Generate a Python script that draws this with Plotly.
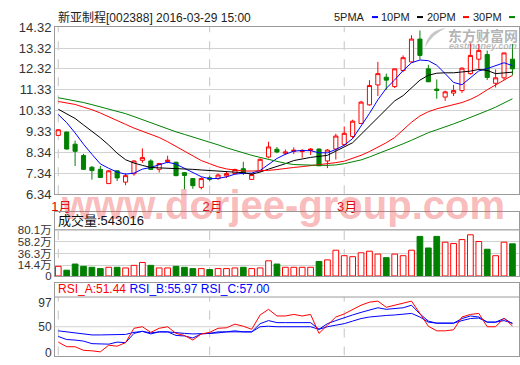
import plotly.graph_objects as go

# ---------------- data ----------------
idx = list(range(55))
month_ticks = [0, 18, 34]
month_labels = ["1月", "2月", "3月"]

open_ = [9.15, 9.31, 8.73, 8.19, 7.63, 7.53, 6.85, 7.46, 6.92, 7.32,
         7.96, 7.93, 7.53, 7.90, 7.87, 7.37, 7.09, 6.67, 7.13, 7.09,
         7.22, 7.33, 7.56, 7.05, 7.46, 8.12, 8.49, 8.30, 8.39, 8.38,
         8.43, 8.50, 7.93, 8.50, 8.71, 9.10, 9.72, 10.61, 11.56, 11.93,
         11.48, 12.25, 12.66, 13.75, 12.33, 11.36, 10.98, 11.17, 11.29, 12.10,
         12.79, 13.01, 11.64, 11.90, 12.79]
high = [9.45, 9.33, 8.90, 8.27, 7.69, 7.69, 7.50, 7.48, 7.35, 7.96,
        8.53, 8.01, 7.84, 8.18, 7.89, 7.40, 7.11, 7.15, 7.22, 7.33,
        7.41, 7.56, 7.89, 7.35, 8.05, 8.85, 8.60, 8.48, 8.58, 8.50,
        8.54, 8.52, 8.50, 9.23, 9.58, 9.90, 10.80, 11.79, 12.66, 12.10,
        12.33, 12.97, 13.93, 14.16, 12.52, 11.82, 11.29, 11.56, 12.40, 13.55,
        13.52, 13.20, 12.30, 13.09, 13.52]
low = [9.12, 8.48, 7.69, 7.50, 7.04, 7.12, 6.83, 6.97, 6.77, 7.23,
       7.84, 7.50, 7.38, 7.82, 7.20, 6.57, 6.60, 6.57, 6.95, 7.03,
       7.12, 7.29, 7.26, 7.02, 7.40, 8.06, 8.30, 8.21, 8.26, 8.08,
       8.22, 7.69, 7.59, 8.00, 8.66, 9.00, 9.70, 10.57, 11.03, 11.33,
       11.41, 12.17, 12.63, 12.77, 11.71, 10.90, 10.80, 11.03, 11.18, 12.05,
       12.33, 11.80, 11.44, 11.80, 12.02]
close = [9.42, 8.50, 8.39, 7.53, 7.47, 7.14, 7.46, 7.12, 7.23, 7.93,
         8.09, 7.53, 7.81, 7.97, 7.23, 7.24, 6.75, 7.09, 7.06, 7.26,
         7.33, 7.52, 7.37, 7.28, 8.01, 8.60, 8.36, 8.36, 8.44, 8.41,
         8.50, 7.70, 8.45, 9.12, 9.25, 9.83, 10.74, 11.53, 12.10, 11.79,
         12.33, 12.86, 13.75, 12.97, 11.71, 11.30, 11.23, 11.29, 12.36, 12.97,
         13.21, 11.92, 11.90, 13.09, 12.33]

ma5 = [10.15, 9.76, 9.27, 8.73, 8.25, 7.79, 7.58, 7.40, 7.30, 7.35,
       7.54, 7.62, 7.75, 7.87, 7.78, 7.57, 7.37, 7.18, 7.08, 7.10,
       7.17, 7.30, 7.34, 7.35, 7.48, 7.75, 8.05, 8.25, 8.40, 8.43,
       8.42, 8.32, 8.32, 8.48, 8.68, 9.00, 9.58, 10.20, 10.85, 11.40,
       11.80, 12.25, 12.62, 12.75, 12.72, 12.50, 12.10, 11.68, 11.57, 11.90,
       12.23, 12.34, 12.47, 12.62, 12.48]
ma10 = [10.40, 10.19, 9.96, 9.65, 9.35, 9.04, 8.69, 8.30, 7.99, 7.83,
        7.72, 7.62, 7.60, 7.59, 7.58, 7.56, 7.53, 7.50, 7.47, 7.45,
        7.42, 7.40, 7.37, 7.30, 7.40, 7.54, 7.66, 7.80, 7.95, 8.04,
        8.10, 8.15, 8.20, 8.40, 8.60, 8.80, 9.20, 9.60, 10.00, 10.45,
        10.80, 11.05, 11.41, 11.79, 12.02, 12.12, 12.14, 12.14, 12.18, 12.22,
        12.30, 12.25, 12.10, 12.12, 12.17]
ma20 = [10.77, 10.71, 10.63, 10.50, 10.38, 10.22, 10.05, 9.85, 9.68, 9.50,
        9.35, 9.22, 9.05, 8.85, 8.62, 8.38, 8.15, 7.95, 7.80, 7.65,
        7.55, 7.50, 7.45, 7.45, 7.45, 7.48, 7.52, 7.58, 7.62, 7.66,
        7.70, 7.74, 7.80, 7.85, 7.92, 8.05, 8.20, 8.38, 8.58, 8.80,
        9.05, 9.40, 9.78, 10.08, 10.28, 10.42, 10.52, 10.61, 10.72, 10.87,
        11.07, 11.33, 11.56, 11.79, 12.02]
ma30 = [10.95, 10.88, 10.80, 10.72, 10.62, 10.52, 10.42, 10.30, 10.19, 10.05,
        9.90, 9.76, 9.62, 9.45, 9.32, 9.20, 9.08, 8.96, 8.82, 8.70,
        8.56, 8.43, 8.32, 8.20, 8.10, 8.00, 7.90, 7.82, 7.76, 7.74,
        7.73, 7.72, 7.72, 7.74, 7.80, 7.88, 7.98, 8.12, 8.27, 8.42,
        8.58, 8.75, 8.92, 9.10, 9.28, 9.42, 9.55, 9.70, 9.85, 10.00,
        10.18, 10.33, 10.50, 10.70, 10.90]

# volume in 万 shares
volume = [12.6, 5.4, 16.8, 12.6, 10.8, 8.4, 10.8, 10.8, 9.6, 14.4,
          19.8, 14.4, 9.6, 9.6, 12.6, 10.8, 8.4, 8.4, 6.6, 8.4,
          8.4, 9.6, 10.8, 8.4, 9.6, 22.8, 16.8, 10.8, 10.8, 10.8,
          10.8, 21.6, 24.5, 42.5, 32.3, 30.5, 37.7, 40.7, 35.3, 28.7,
          35.3, 32.3, 42.5, 68.1, 46.6, 68.1, 57.4, 55.0, 62.2, 71.1,
          58.6, 44.3, 32.3, 57.4, 54.3]

rsi_a = [20, 11, 11, 4, 3, 1, 14, 12, 19, 47,
         50, 39, 47, 50, 37, 33, 24, 36, 39, 47,
         48, 55, 51, 45, 73, 84, 71, 71, 74, 71,
         74, 37, 53, 69, 75, 84, 92, 98, 100, 88,
         92, 96, 100, 76, 51, 42, 42, 44, 69, 74,
         76, 50, 50, 67, 51.44]
rsi_b = [31, 25, 24, 22, 17, 17, 16, 20, 19, 37,
         41, 36, 40, 40, 33, 32, 28, 36, 37, 40,
         40, 42, 40, 40, 56, 62, 58, 58, 58, 58,
         58, 45, 56, 62, 68, 73, 78, 83, 87, 84,
         85, 87, 92, 75, 61, 57, 57, 57, 66, 71,
         69, 59, 59, 66, 55.97]
rsi_c = [42, 40, 37, 35, 34, 34, 34, 35, 35, 39,
         41, 38, 40, 40, 38, 37, 36, 36, 37, 38,
         40, 40, 40, 40, 50, 51, 50, 50, 50, 50,
         50, 45, 50, 53, 56, 61, 66, 69, 71, 72,
         73, 74, 76, 69, 59, 57, 57, 57, 62, 66,
         67, 59, 59, 62, 57.00]

price_tickvals = [6.34, 7.3375, 8.335, 9.3325, 10.33, 11.3275, 12.325, 13.3225, 14.32]
price_ticktext = ["6.34", "7.34", "8.34", "9.33", "10.33", "11.33", "12.32", "13.32", "14.32"]
vol_tickvals = [-5.3, 14.4, 36.3, 58.2, 80.1]
vol_ticktext = ["0", "14.4万", "36.3万", "58.2万", "80.1万"]
rsi_tickvals = [0, 50, 97]
rsi_ticktext = ["0", "50", "97"]

# ---------------- styling / layout ----------------
W, H = 520, 365
L, R = 55, 519
def xp(px):
    return (px - L) / (R - L)
def yp(py):
    return (H - py) / H

RED = "#ff0000"
GREEN = "#008000"
BLUE = "#0000ff"
BORDER = "#9a9a9a"
GRID = "#d2d2d2"
FONT = "Liberation Sans, Noto Sans CJK SC, sans-serif"

X_RANGE = [-0.39, 54.78]
PRICE_RANGE = [6.34, 14.32]
VOL_RANGE = [-5.3, 113.0]
VOL_TOP = 80.1
RSI_RANGE = [-6.25, 135.6]
RSI_TOP = 108

fig = go.Figure()

fig.add_trace(go.Candlestick(
    x=idx, open=open_, high=high, low=low, close=close,
    increasing=dict(line=dict(color=RED, width=1), fillcolor="white"),
    decreasing=dict(line=dict(color=GREEN, width=1), fillcolor=GREEN),
    whiskerwidth=0, xaxis="x", yaxis="y", showlegend=False, hoverinfo="skip"))

for series, col in [(ma5, BLUE), (ma10, "#000000"), (ma20, RED), (ma30, GREEN)]:
    fig.add_trace(go.Scatter(x=idx, y=series, mode="lines",
                             line=dict(color=col, width=1),
                             xaxis="x", yaxis="y", showlegend=False, hoverinfo="skip"))

up_x, up_v, dn_x, dn_v = [], [], [], []
for i, o, c, v in zip(idx, open_, close, volume):
    if c >= o:
        up_x.append(i); up_v.append(v - VOL_RANGE[0])
    else:
        dn_x.append(i); dn_v.append(v - VOL_RANGE[0])

fig.add_trace(go.Bar(x=up_x, y=up_v, base=VOL_RANGE[0], width=0.68,
                     marker=dict(color="white", line=dict(color=RED, width=1)),
                     xaxis="x2", yaxis="y2", showlegend=False, hoverinfo="skip"))
fig.add_trace(go.Bar(x=dn_x, y=dn_v, base=VOL_RANGE[0], width=0.68,
                     marker=dict(color=GREEN, line=dict(color=GREEN, width=1)),
                     xaxis="x2", yaxis="y2", showlegend=False, hoverinfo="skip"))

for series, col in [(rsi_c, BLUE), (rsi_b, BLUE), (rsi_a, RED)]:
    fig.add_trace(go.Scatter(x=idx, y=series, mode="lines",
                             line=dict(color=col, width=1),
                             xaxis="x3", yaxis="y3", showlegend=False, hoverinfo="skip"))

def xaxis_cfg(anchor, labels):
    d = dict(domain=[0, 1], range=X_RANGE, anchor=anchor, showgrid=False,
             zeroline=False, showline=True, mirror=True, linecolor=BORDER,
             linewidth=1, ticks="", fixedrange=True,
             tickvals=month_ticks, ticktext=month_labels,
             showticklabels=labels, ticklabelshift=3,
             tickfont=dict(family=FONT, size=13, color="#e00000"))
    return d

def yaxis_cfg(domain, rng, tv, tt, grid=True):
    return dict(domain=domain, range=rng, anchor=None, showgrid=grid,
                gridcolor=GRID, gridwidth=1, zeroline=False, showline=True,
                mirror=True, linecolor=BORDER, linewidth=1, ticks="",
                tickvals=tv, ticktext=tt, fixedrange=True,
                tickfont=dict(family=FONT, size=12, color="#333333"))

xa = xaxis_cfg("y", True)
xa["rangeslider"] = dict(visible=False)
ya = yaxis_cfg([yp(195.3), yp(21)], PRICE_RANGE, price_tickvals, price_ticktext)
ya["anchor"] = "x"
ya["tickfont"] = dict(family=FONT, size=13, color="#333333")
ya2 = yaxis_cfg([yp(280.5), yp(214)], VOL_RANGE, vol_tickvals, vol_ticktext)
ya2["anchor"] = "x2"
ya2["tickfont"] = dict(family=FONT, size=11.5, color="#333333")
ya3 = yaxis_cfg([yp(363.5), yp(287.7)], RSI_RANGE, rsi_tickvals, rsi_ticktext, grid=False)
ya3["anchor"] = "x3"

shapes = []
# month separators (dashed)
for t in month_ticks:
    shapes.append(dict(type="line", xref="x", yref="y domain", x0=t, x1=t, y0=0, y1=1,
                       line=dict(color="#c4c4c4", width=1, dash="dash"), layer="below"))
    shapes.append(dict(type="line", xref="x2", yref="y2", x0=t, x1=t,
                       y0=VOL_RANGE[0], y1=VOL_TOP,
                       line=dict(color="#c4c4c4", width=1, dash="dash"), layer="below"))
    shapes.append(dict(type="line", xref="x3", yref="y3", x0=t, x1=t,
                       y0=RSI_RANGE[0], y1=RSI_TOP,
                       line=dict(color="#c4c4c4", width=1, dash="dash"), layer="below"))
# panel header separators
shapes.append(dict(type="line", xref="x2 domain", yref="y2", x0=0, x1=1,
                   y0=VOL_TOP, y1=VOL_TOP, line=dict(color=BORDER, width=1)))
shapes.append(dict(type="line", xref="x3 domain", yref="y3", x0=0, x1=1,
                   y0=RSI_TOP, y1=RSI_TOP, line=dict(color=BORDER, width=1)))
shapes.append(dict(type="line", xref="x3 domain", yref="y3", x0=0, x1=1,
                   y0=50, y1=50, line=dict(color=GRID, width=1), layer="below"))

# legend: label then a short coloured dash
legend_items = [("5PMA", 372, BLUE), ("10PM", 417, "#000000"),
                ("20PM", 463, RED), ("30PM", 509, GREEN)]
annotations = []
for name, dx, col in legend_items:
    annotations.append(dict(xref="paper", yref="paper", x=xp(dx - 5), y=yp(10.5),
                            xanchor="right", yanchor="middle", showarrow=False,
                            text=name, font=dict(family=FONT, size=11, color="#222222")))
    shapes.append(dict(type="line", xref="paper", yref="paper",
                       x0=xp(dx), x1=xp(dx + 6), y0=yp(10.5), y1=yp(10.5),
                       line=dict(color=col, width=2)))

annotations += [
    dict(xref="paper", yref="paper", x=xp(56), y=yp(10.5), xanchor="left", yanchor="middle",
         showarrow=False, text="新亚制程[002388] 2016-03-29 15:00",
         font=dict(family=FONT, size=12, color="#222222")),
    # watermark
    dict(xref="paper", yref="paper", x=xp(283), y=yp(207), xanchor="center", yanchor="middle",
         showarrow=False, text="<b>www.dorjee-group.com</b>",
         font=dict(family="Liberation Sans Narrow, Liberation Sans, sans-serif", size=40,
                   color="rgba(240,80,80,0.40)")),
    # logo
    dict(xref="paper", yref="paper", x=xp(483), y=yp(29.5), xanchor="center", yanchor="middle",
         showarrow=False, text="<b>东方财富网</b>",
         font=dict(family="Noto Sans CJK SC", size=14, color="rgba(130,130,130,0.6)")),
    dict(xref="paper", yref="paper", x=xp(483), y=yp(40.5), xanchor="center", yanchor="middle",
         showarrow=False, text="<b><i>eastmoney.com</i></b>",
         font=dict(family=FONT, size=9, color="rgba(130,130,130,0.55)")),
    dict(xref="paper", yref="paper", x=xp(56), y=yp(222.5), xanchor="left", yanchor="middle",
         showarrow=False, text="成交量:543016",
         font=dict(family=FONT, size=13, color="#111111")),
    dict(xref="paper", yref="paper", x=xp(56), y=yp(294.5), xanchor="left", yanchor="middle",
         showarrow=False,
         text="<span style='color:#ff0000'>RSI_A:51.44</span> "
              "<span style='color:#0000ff'>RSI_B:55.97 RSI_C:57.00</span>",
         font=dict(family=FONT, size=12)),
]

# logo swoosh (decorative)
shapes.append(dict(type="path", xref="paper", yref="paper",
                   path=("M {a},{b} Q {c},{d} {e},{f} Q {g},{h} {a},{b} Z").format(
                       a=xp(425), b=yp(42), c=xp(428), d=yp(24), e=xp(446), f=yp(22),
                       g=xp(433), h=yp(28)),
                   fillcolor="rgba(130,130,130,0.45)", line=dict(width=0)))

fig.update_layout(
    width=W, height=H, margin=dict(l=L, r=W - R, t=0, b=0),
    paper_bgcolor="white", plot_bgcolor="white",
    xaxis=xa, yaxis=ya,
    xaxis2=xaxis_cfg("y2", False), yaxis2=ya2,
    xaxis3=xaxis_cfg("y3", False), yaxis3=ya3,
    shapes=shapes, annotations=annotations,
    barmode="overlay", showlegend=False, boxgap=0.3,
)

fig.write_html("out.html", config={"displayModeBar": False},
               post_script="document.body.style.margin='0px';document.body.style.overflow='hidden';")
